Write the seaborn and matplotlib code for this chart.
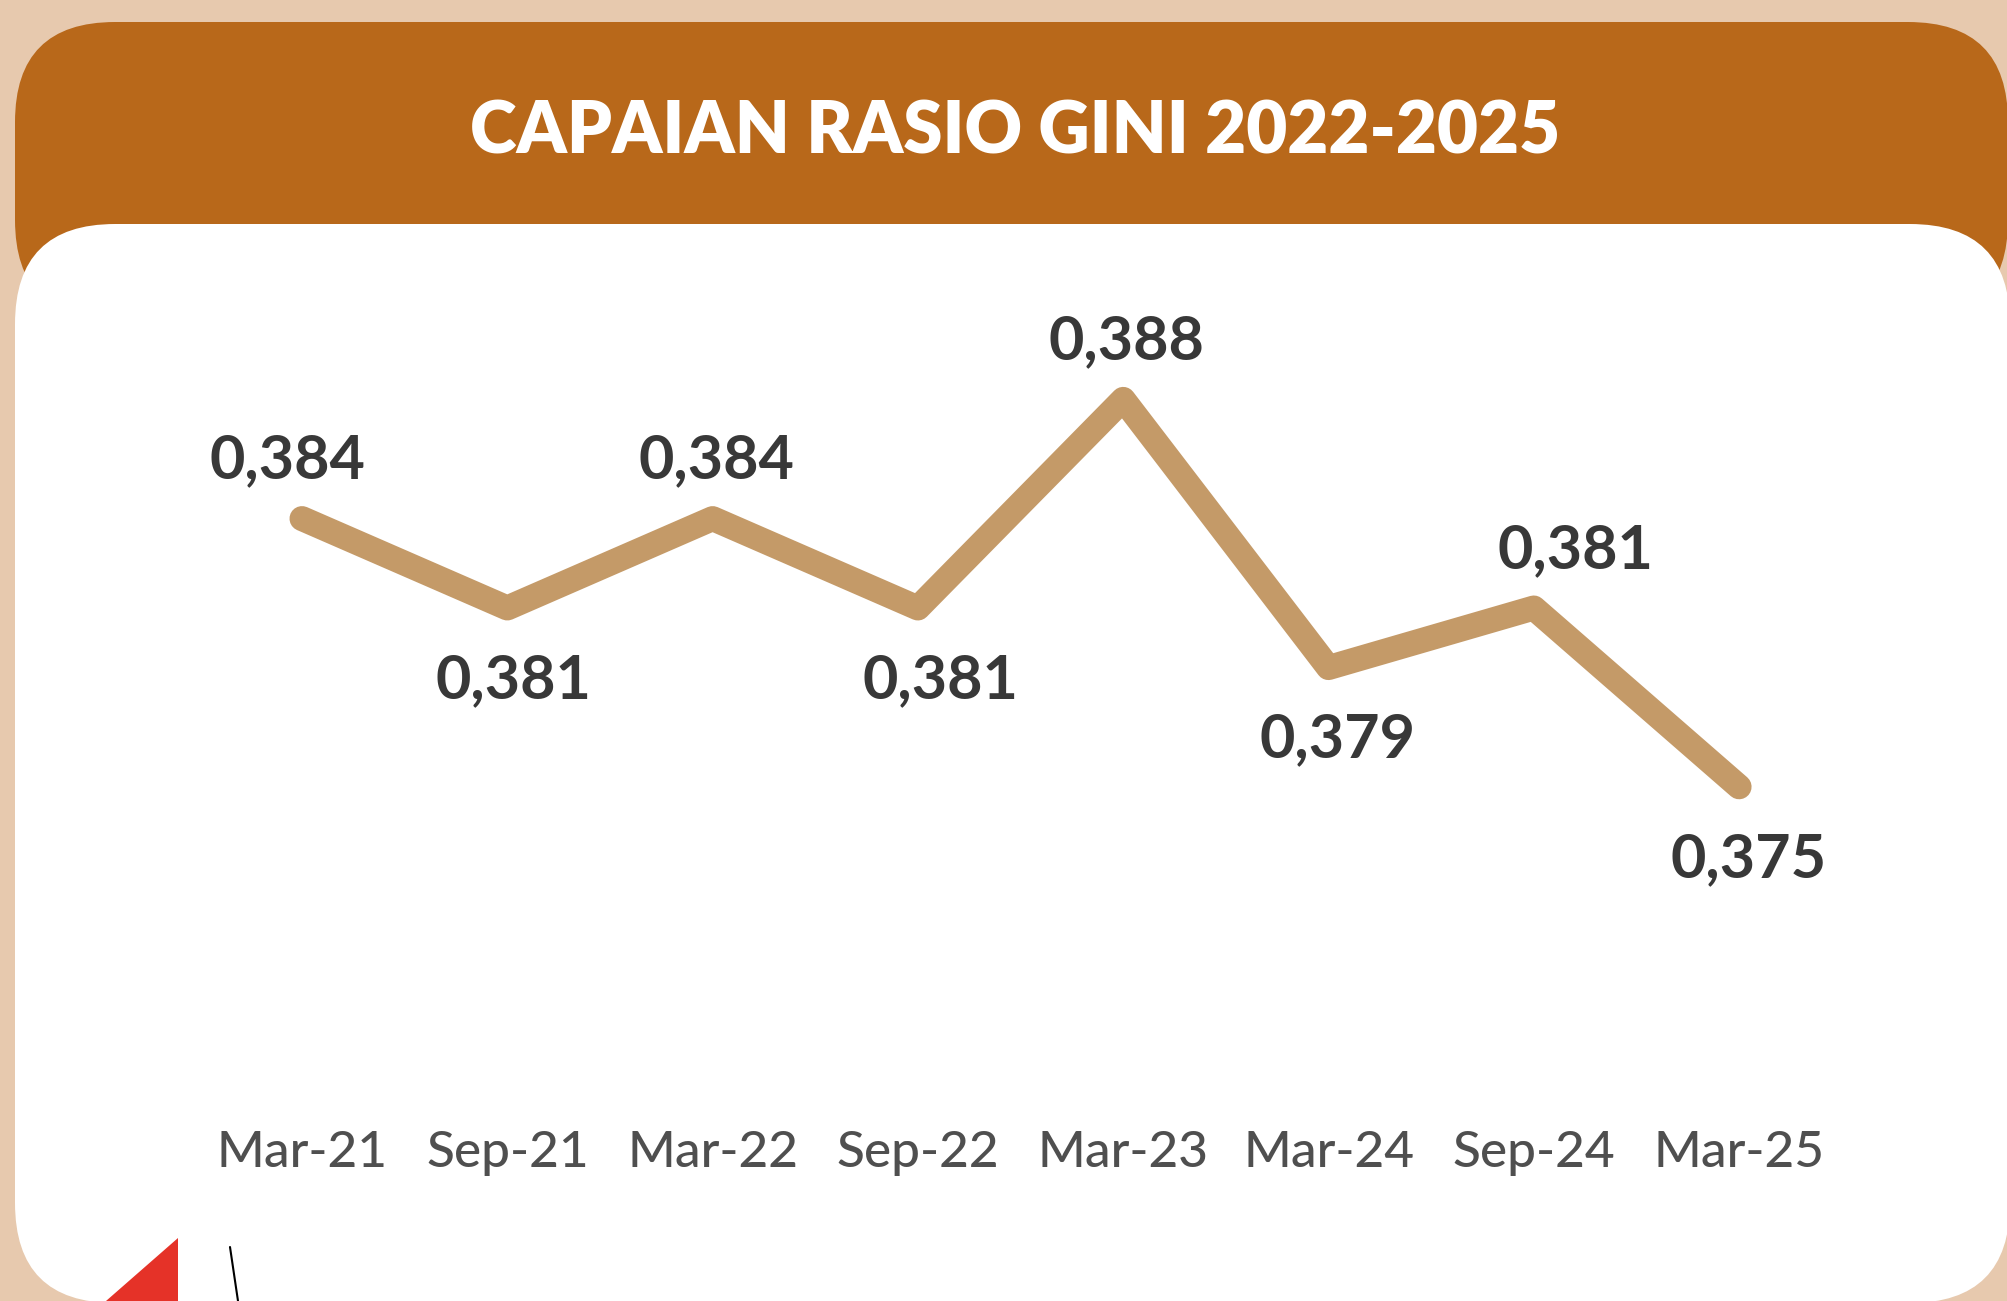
import numpy as np
import pandas as pd
import seaborn as sns
import matplotlib.pyplot as plt
import matplotlib.transforms as mtransforms
from matplotlib.patches import FancyBboxPatch, Polygon

# Data
periods = ['Mar-21', 'Sep-21', 'Mar-22', 'Sep-22', 'Mar-23', 'Mar-24', 'Sep-24', 'Mar-25']
gini = [0.384, 0.381, 0.384, 0.381, 0.388, 0.379, 0.381, 0.375]
title = 'CAPAIAN RASIO GINI 2022-2025'

# Colours
BG = '#E7C9AE'
HEADER = '#B8681A'
LINE = '#C49A68'
LABEL = '#383838'
TICK = '#4F4F4F'

W, H = 2008, 1301
DPI = 100

sns.set_theme(style='white')
plt.rcParams['font.family'] = ['Lato', 'DejaVu Sans']

fig = plt.figure(figsize=(W / DPI, H / DPI), dpi=DPI, facecolor=BG)
px = mtransforms.IdentityTransform()

# Header + white card (pixel coords, origin bottom-left)
header = FancyBboxPatch((15, H - 320), 1993, 298,
                        boxstyle='round,pad=0,rounding_size=100',
                        fc=HEADER, ec='none', transform=px, zorder=-10)
card = FancyBboxPatch((15, -2), 1995, H - 224 + 2,
                      boxstyle='round,pad=0,rounding_size=100',
                      fc='white', ec='none', transform=px, zorder=-9)
fig.add_artist(header)
fig.add_artist(card)

# small flag decoration at the bottom left
fig.add_artist(Polygon([(178, 63), (106, 0), (178, 0)], closed=True,
                       fc='#E53228', ec='none', transform=px, zorder=-8))
fig.add_artist(plt.Line2D([230, 238], [54, 0], color='black', lw=1.5,
                          transform=px, zorder=-8))

fig.text(1015 / W, 1 - 133 / H, title, color='white', fontsize=51,
         fontweight='heavy', ha='center', va='center')

# Chart axes
ax = fig.add_axes([0, 200 / H, 1, 1 - 200 / H])
ax.patch.set_alpha(0)

df = pd.DataFrame({'Periode': periods, 'Gini': gini})
sns.lineplot(data=df, x='Periode', y='Gini', sort=False, color=LINE, lw=18,
             solid_capstyle='round', solid_joinstyle='round', ax=ax)

step = 205.3
x0 = 302
ax.set_xlim(-x0 / step, (W - x0) / step)
ax.set_ylim(0.364456, 0.401402)

# horizontal nudge of each value label (pixels)
label_dx = [-15, 6, 4, 23, 3, 9, 42, 9]
for i, v in enumerate(gini):
    prev = gini[i - 1] if i > 0 else -1
    nxt = gini[i + 1] if i < len(gini) - 1 else -1
    above = v >= prev and v >= nxt
    dy = 58 if above else -72
    ax.annotate(f'{v:.3f}'.replace('.', ','), (i, v), xytext=(label_dx[i], dy),
                textcoords='offset pixels', ha='center', va='center',
                fontsize=44, fontweight='bold', color=LABEL)

ax.set_xticks(range(len(periods)))
ax.set_xticklabels(periods, fontsize=37, color=TICK, fontweight='medium')
ax.tick_params(axis='x', length=0, pad=21)
ax.set_yticks([])
ax.set_xlabel('')
ax.set_ylabel('')
for s in ax.spines.values():
    s.set_visible(False)

fig.savefig('out.png', dpi=DPI, facecolor=BG)
